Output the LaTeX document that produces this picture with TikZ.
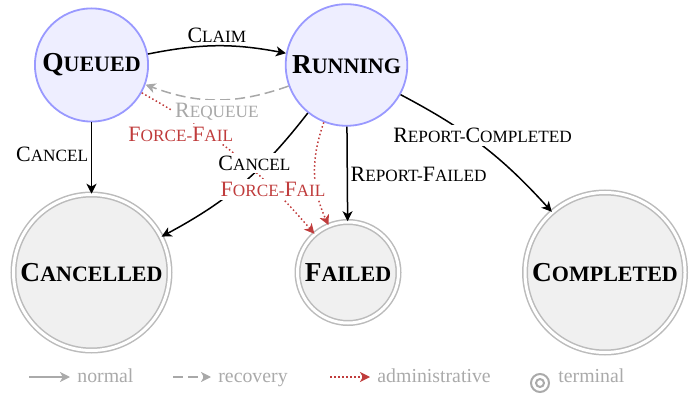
\documentclass[tikz,border=0pt]{standalone}
\usepackage{fontspec}
\setmainfont{Liberation Serif}
\usetikzlibrary{arrows.meta}
\definecolor{stateline}{HTML}{9999FF}
\definecolor{statefill}{HTML}{EEEEFF}
\definecolor{termline}{HTML}{BBBBBB}
\definecolor{termfill}{HTML}{F0F0F0}
\definecolor{admred}{HTML}{C03C3C}
\definecolor{recgray}{HTML}{A8A8A8}
\definecolor{leggray}{HTML}{AAAAAA}
% small capitals set by hand: lower letters in a reduced size
\newcommand\lsc[1]{{\fontsize{8.6pt}{10pt}\selectfont #1}}
\newcommand\bsc[1]{{\fontsize{11pt}{13pt}\selectfont #1}}
\begin{document}
\begin{tikzpicture}[x=0.5pt, y=-0.5pt,
  active/.style={circle, draw=stateline, fill=statefill, line width=0.9pt,
    inner sep=0pt, font=\fontsize{13.7pt}{16pt}\selectfont\bfseries},
  terminal/.style={circle, draw=termline, line width=0.75pt, double=white,
    double distance=1.5pt, fill=termfill, inner sep=0pt, font=\fontsize{13.7pt}{16pt}\selectfont\bfseries},
  tr/.style={-{Stealth[length=5pt,width=5pt,inset=1.4pt]}, line width=0.75pt},
  normal/.style={tr, black},
  recovery/.style={tr, recgray, dash pattern=on 5pt off 2.5pt},
  admin/.style={tr, admred, dash pattern=on 0.75pt off 1.25pt},
  elabel/.style={font=\fontsize{10.95pt}{13pt}\selectfont, inner sep=1.5pt},
  onpath/.style={elabel, fill=white},
  legtext/.style={font=\fontsize{9.9pt}{12pt}\selectfont, text=leggray, anchor=west,
    inner sep=3.5pt, text height=7pt, text depth=2pt},
  legring/.style={circle, draw=leggray, line width=1pt, inner sep=0pt},
]
\useasboundingbox (0,0) rectangle (699,394);

% states
\node[active, minimum size=56.6pt] (q) at (91.5,65) {Q\bsc{UEUED}};
\node[active, minimum size=60.8pt] (r) at (346.5,65) {R\bsc{UNNING}};
\node[terminal, minimum size=78pt] (c) at (91.5,272.5) {C\bsc{ANCELLED}};
\node[terminal, minimum size=50.5pt] (f) at (348,272.5) {F\bsc{AILED}};
\node[terminal, minimum size=80pt] (d) at (605,272.5) {C\bsc{OMPLETED}};

% transitions
\draw[normal] (q) to[bend left=11] (r);
\draw[recovery] (r) to[bend left=20] (q);
\draw[normal] (q) -- (c);
\draw[admin] (q) to[bend left=10] (f);
\draw[admin] (r) to[bend right=22] (f);
\draw[normal] (r) -- (f);
\draw[normal] (r) to[bend left=12] (c);
\draw[normal] (r) to[bend left=10] (d);

% transition labels, drawn on top of all lines
\path (q) to[bend left=11] node[elabel, above] {C\lsc{LAIM}} (r);
\path (r) to[bend left=20] node[onpath, below, text=recgray] {R\lsc{EQUEUE}} (q);
\path (q) -- node[elabel, left, pos=0.45] {C\lsc{ANCEL}} (c);
\path (r) -- node[elabel, right] {R\lsc{EPORT-}F\lsc{AILED}} (f);
\path (r) to[bend left=10] node[onpath, pos=0.45, xshift=3.75pt, yshift=2.5pt] {R\lsc{EPORT-}C\lsc{OMPLETED}} (d);
\path (r) to[bend left=12] node[onpath, pos=0.3, xshift=-7pt, yshift=-2pt] {C\lsc{ANCEL}} (c);
\path (q) to[bend left=10] node[onpath, text=admred, pos=0.3, xshift=-10.5pt, yshift=-2.25pt] {F\lsc{ORCE-}F\lsc{AIL}} (f);
\path (r) to[bend right=22] node[onpath, text=admred, pos=0.6, anchor=east, xshift=6.5pt, yshift=-2.75pt] {F\lsc{ORCE-}F\lsc{AIL}} (f);

% legend
\coordinate (k1) at (29,377);
\node[legtext] (t1) at (70,377) {normal};
\draw[tr, leggray] (k1) -- (t1);
\coordinate (k2) at (173,377);
\node[legtext] (t2) at (211,377) {recovery};
\draw[recovery] (k2) -- (t2);
\coordinate (k3) at (330,377);
\node[legtext] (t3) at (370,377) {administrative};
\draw[admin] (k3) -- (t3);
\node[legring, minimum size=9pt] (k4) at (540,383) {};
\node[legring, minimum size=4pt] (k4i) at (k4) {};
\node[legtext] (t4) at (551,377) {terminal};
\end{tikzpicture}
\end{document}
